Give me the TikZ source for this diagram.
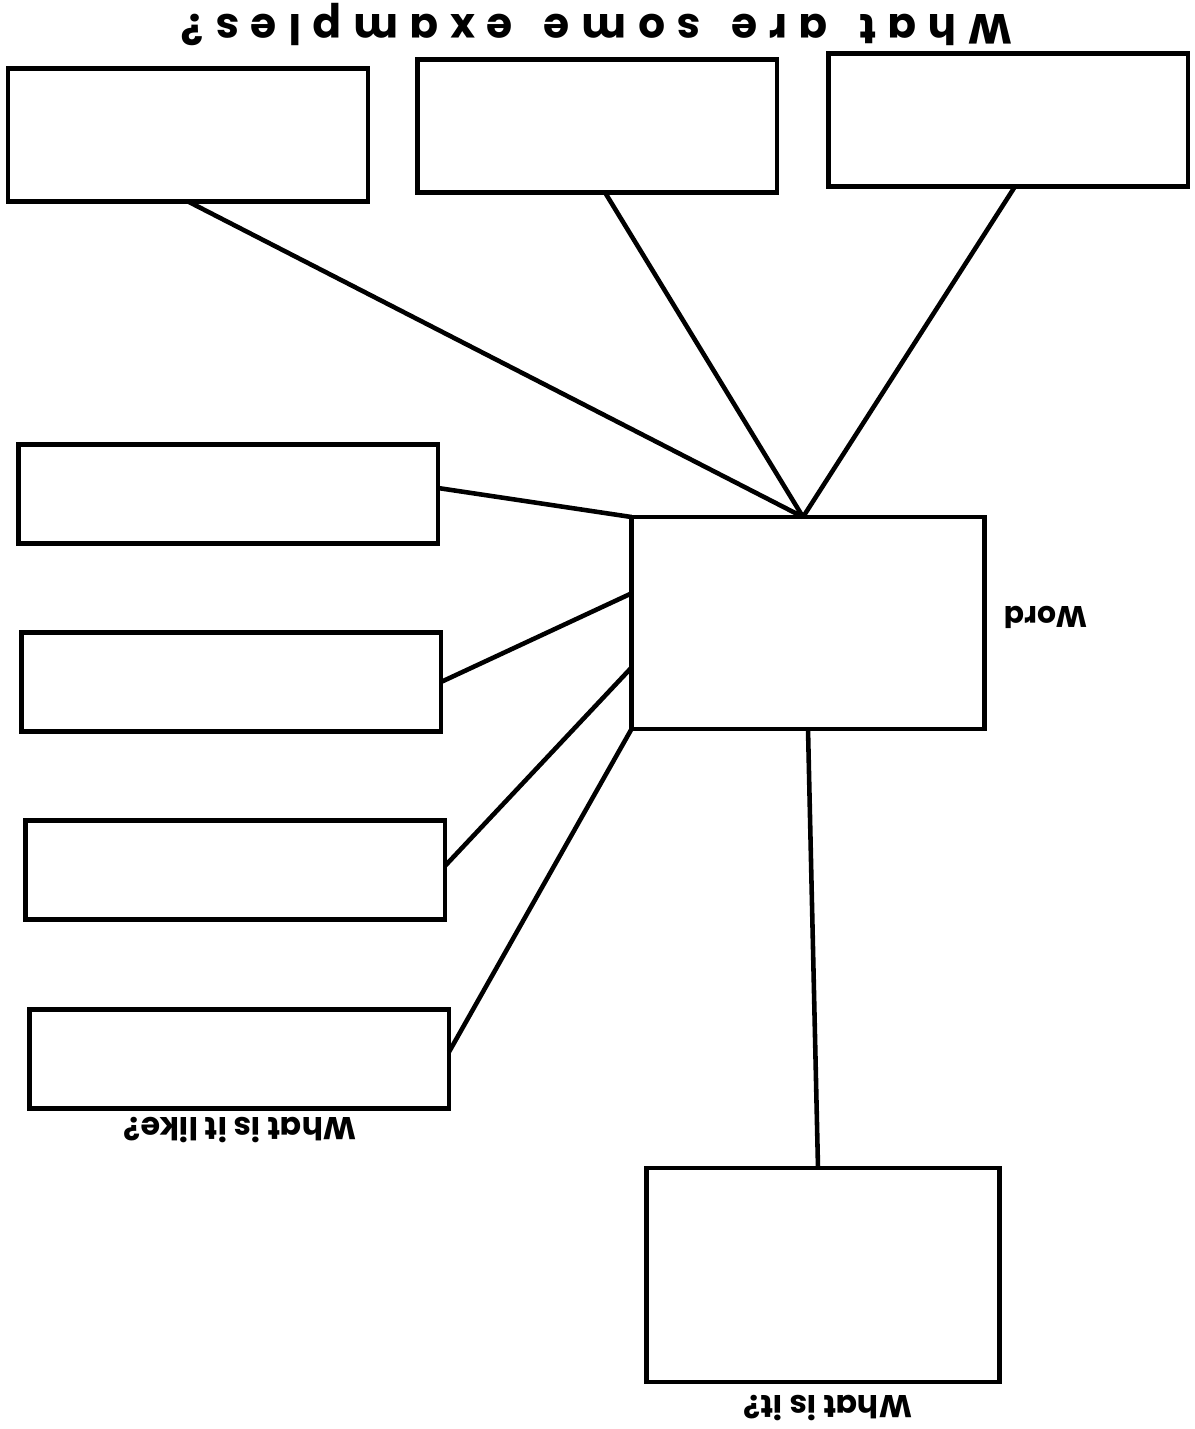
\documentclass[tikz,border=0pt]{standalone}
\usepackage{fontspec}
\setmainfont{Poppins}
\newfontfamily\headfont[LetterSpace=28,WordSpace=1.5]{Poppins}
\usetikzlibrary{positioning,calc}

\begin{document}
\begin{tikzpicture}[
    x=0.02cm,y=-0.02cm,
    answerbox/.style={
      draw,rectangle,line width=2.8pt,inner sep=0pt,outer sep=0pt
    },
    topbox/.style={
      answerbox,minimum width=7.2cm,minimum height=2.66cm
    },
    sidebox/.style={
      answerbox,minimum width=8.4cm,minimum height=1.98cm
    },
    bigbox/.style={
      answerbox,minimum width=7.06cm,minimum height=4.28cm
    },
    link/.style={
      line width=2.6pt
    },
    upside/.style={
      rotate=180,font=\bfseries
    }]
      \useasboundingbox (0,0) rectangle (1194,1429);

      % examples
      \node[topbox] (exa) at (188,135) {};
      \node[topbox] (exb) at (597,126) {};
      \node[topbox] (exc) at (1008,120) {};

      % what is it like
      \node[sidebox] (likea) at (228,494) {};
      \node[sidebox] (likeb) at (231,682) {};
      \node[sidebox] (likec) at (235,870) {};
      \node[sidebox] (liked) at (239,1059) {};

      % word and definition
      \node[bigbox,minimum height=4.24cm] (word) at (808,623) {};
      \node[bigbox] (whatis) at (823,1275) {};

      \node[upside,font=\headfont\bfseries\fontsize{24}{27}\selectfont] (head) at (597,25) {What are some examples?};
      \node[upside,font=\bfseries\fontsize{17}{20}\selectfont] (wordlbl) at (1046,617) {Word};
      \node[upside,font=\bfseries\fontsize{18}{21}\selectfont] (likelbl) at (240,1130) {What is it like?};
      \node[upside,font=\bfseries\fontsize{18}{21}\selectfont] (islbl) at (828,1408) {What is it?};

      \coordinate (hub) at ($(word.north)+(-5,0)$);
      \draw[link] (exa.south) -- (hub);
      \draw[link] ($(exb.south)+(8,0)$) -- (hub);
      \draw[link] ($(exc.south)+(7,0)$) -- (hub);

      \draw[link] ($(likea.east)+(0,-6)$) -- (word.north west);
      \draw[link] (likeb.east) -- ($(word.north west)!0.36!(word.south west)$);
      \draw[link] ($(likec.east)+(0,-4)$) -- ($(word.north west)!0.71!(word.south west)$);
      \draw[link] ($(liked.east)+(0,-7)$) -- (word.south west);

      \draw[link] (word.south) -- ($(whatis.north)+(-5,0)$);
  \end{tikzpicture}
\end{document}
